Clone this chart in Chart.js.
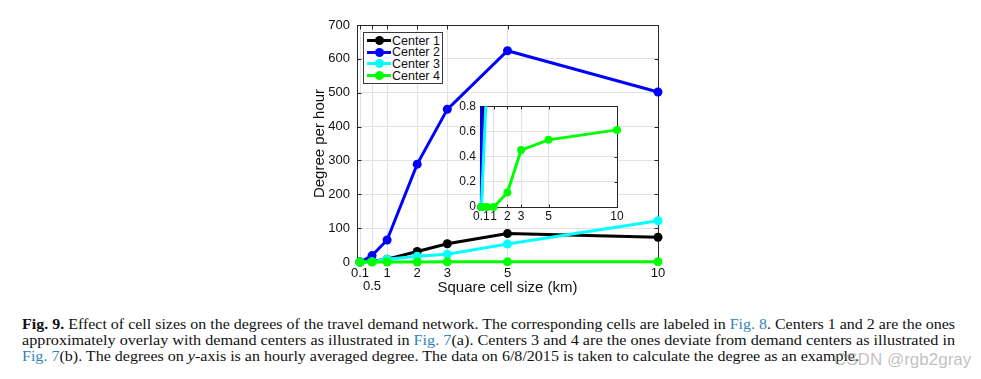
<!DOCTYPE html>
<html>
<head>
<meta charset="utf-8">
<script src="https://cdn.jsdelivr.net/npm/chart.js@4.4.1/dist/chart.umd.min.js"></script>
<style>
  html, body { margin: 0; padding: 0; background: #fff; }
  body { width: 981px; height: 379px; overflow: hidden; position: relative; font-family: "Liberation Sans", Arial, sans-serif; }
  #mainCanvas { position: absolute; left: 0; top: 0; }
  #insetCanvas { position: absolute; left: 440px; top: 95px; }
  #legend { position: absolute; left: 363px; top: 32px; width: 78px; height: 50px; border: 1px solid #3a3a3a; background: #fff; }
  .lrow { position: absolute; left: 0; height: 12px; width: 78px; }
  .lline { position: absolute; left: 3px; width: 24px; height: 3px; top: 4.5px; }
  .ldot { position: absolute; left: 10.5px; width: 9px; height: 9px; top: 1.5px; border-radius: 50%; }
  .ltext { position: absolute; left: 28px; top: -1px; font-size: 12.5px; line-height: 14px; color: #111; white-space: nowrap; }
  .cap { position: absolute; left: 22px; font-family: "Liberation Serif", "Times New Roman", serif; font-size: 14px; line-height: 16px; color: #111; white-space: nowrap; transform-origin: 0 0; }
  .cap a { color: #2f83c0; text-decoration: none; }
  #wm { position: absolute; left: 834px; top: 350px; font-family: "Liberation Sans", Arial, sans-serif; font-size: 17px; line-height: 20px; color: rgba(150,150,150,0.6); white-space: nowrap; }
</style>
</head>
<body>
<canvas id="mainCanvas" width="981" height="300"></canvas>
<canvas id="insetCanvas" width="190" height="130"></canvas>
<div id="legend"></div>

<div class="cap" id="cap1" data-target="933"><b>Fig. 9.</b> Effect of cell sizes on the degrees of the travel demand network. The corresponding cells are labeled in <a>Fig. 8</a>. Centers 1 and 2 are the ones</div>
<div class="cap" id="cap2" data-target="933">approximately overlay with demand centers as illustrated in <a>Fig. 7</a>(a). Centers 3 and 4 are the ones deviate from demand centers as illustrated in</div>
<div class="cap" id="cap3" data-target="837"><a>Fig. 7</a>(b). The degrees on <i>y</i>-axis is an hourly averaged degree. The data on 6/8/2015 is taken to calculate the degree as an example.</div>
<div id="wm">CSDN @rgb2gray</div>

<script>
// ---- data ----
const xValues = [0.1, 0.5, 1, 2, 3, 5, 10];
const center1 = [0, 2, 8, 31, 54, 84, 73];
const center2 = [0, 19, 65, 289, 451, 624, 502];
const center3 = [0, 1, 8, 17, 23, 53, 122];
const center4 = [0, 0, 0, 0.115, 0.452, 0.533, 0.612];
const seriesNames = ['Center 1', 'Center 2', 'Center 3', 'Center 4'];
const seriesColors = ['#000000', '#0000ff', '#00ffff', '#00ff00'];
const mainXTicks = [0.1, 0.5, 1, 2, 3, 5, 10];
const mainYTicks = [0, 100, 200, 300, 400, 500, 600, 700];
const insetXTicks = [0.1, 1, 2, 3, 5, 10];
const insetYTicks = [0, 0.2, 0.4, 0.6, 0.8];
const xTitle = 'Square cell size (km)';
const yTitle = 'Degree per hour';

const allSeries = [center1, center2, center3, center4];
const toXY = ys => xValues.map((x, i) => ({ x: x, y: ys[i] }));

function makeDatasets(radius, clip) {
  return allSeries.map((ys, i) => ({
    label: seriesNames[i],
    data: toXY(ys),
    borderColor: seriesColors[i],
    backgroundColor: seriesColors[i],
    pointBackgroundColor: seriesColors[i],
    pointBorderWidth: 0,
    pointRadius: radius,
    borderWidth: 3,
    tension: 0,
    order: allSeries.length - i,
    clip: clip
  }));
}

const boxPlugin = {
  id: 'box',
  beforeDraw(chart, args, opts) {
    if (!opts.fill) return;
    const { ctx, chartArea: a } = chart;
    ctx.save();
    ctx.fillStyle = '#ffffff';
    ctx.fillRect(a.left, a.top, a.right - a.left, a.bottom - a.top);
    ctx.restore();
  },
  beforeDatasetsDraw(chart, args, opts) {
    const { ctx, chartArea: a, scales } = chart;
    ctx.save();
    ctx.strokeStyle = opts.color || '#262626';
    ctx.lineWidth = 1;
    const l = Math.round(a.left) + 0.5, t = Math.round(a.top) + 0.5;
    const r = Math.round(a.right) + 0.5, b = Math.round(a.bottom) + 0.5;
    ctx.strokeRect(l, t, r - l, b - t);
    const L = opts.tick || 4;
    ctx.beginPath();
    scales.x.ticks.forEach(tk => {
      const px = Math.round(scales.x.getPixelForValue(tk.value)) + 0.5;
      ctx.moveTo(px, b); ctx.lineTo(px, b - L);
      ctx.moveTo(px, t); ctx.lineTo(px, t + L);
    });
    scales.y.ticks.forEach(tk => {
      const py = Math.round(scales.y.getPixelForValue(tk.value)) + 0.5;
      ctx.moveTo(l, py); ctx.lineTo(l + L, py);
      ctx.moveTo(r, py); ctx.lineTo(r - L, py);
    });
    ctx.stroke();
    ctx.restore();
  }
};

const tickColor = '#111111';
const gridColor = '#e2e2e2';

// ---- main chart ----
new Chart(document.getElementById('mainCanvas'), {
  type: 'line',
  data: { datasets: makeDatasets(4.5, false) },
  plugins: [boxPlugin],
  options: {
    responsive: false,
    animation: false,
    devicePixelRatio: 1,
    layout: { padding: { left: 0, top: 25, right: 323, bottom: 0 } },
    plugins: { legend: { display: false }, tooltip: { enabled: false }, box: { color: '#262626', tick: 4 } },
    scales: {
      x: {
        type: 'linear', min: 0, max: 10,
        afterBuildTicks: s => { s.ticks = mainXTicks.map(v => ({ value: v })); },
        afterFit: s => { s.height = 38; },
        grid: { color: gridColor, drawTicks: false },
        border: { display: false },
        ticks: {
          autoSkip: false, maxRotation: 0, padding: 5.5, color: tickColor,
          font: { family: '"Liberation Sans", Arial, sans-serif', size: 13, lineHeight: 0.95 },
          callback: v => (v === 0.5 ? ['', '0.5'] : String(v))
        },
        title: {
          display: true, text: xTitle, color: tickColor,
          font: { family: '"Liberation Sans", Arial, sans-serif', size: 15, lineHeight: 1.2 },
          padding: { top: 0, bottom: 3 }
        }
      },
      y: {
        type: 'linear', min: 0, max: 700,
        afterBuildTicks: s => { s.ticks = mainYTicks.map(v => ({ value: v })); },
        afterFit: s => { s.width = 357; },
        grid: { color: gridColor, drawTicks: false },
        border: { display: false },
        ticks: {
          autoSkip: false, padding: 7, color: tickColor,
          font: { family: '"Liberation Sans", Arial, sans-serif', size: 13 },
          callback: v => String(v)
        },
        title: {
          display: true, text: yTitle, color: tickColor,
          font: { family: '"Liberation Sans", Arial, sans-serif', size: 15, lineHeight: 1.2 },
          padding: { top: 311, bottom: 0 }
        }
      }
    }
  }
});

// ---- inset chart ----
new Chart(document.getElementById('insetCanvas'), {
  type: 'line',
  data: { datasets: makeDatasets(4, { left: 6, right: 6, top: 0, bottom: 6 }) },
  plugins: [boxPlugin],
  options: {
    responsive: false,
    animation: false,
    devicePixelRatio: 1,
    layout: { padding: { left: 0, top: 10, right: 13, bottom: 0 } },
    plugins: { legend: { display: false }, tooltip: { enabled: false }, box: { color: '#262626', tick: 3, fill: true } },
    scales: {
      x: {
        type: 'linear', min: 0, max: 10,
        afterBuildTicks: s => { s.ticks = insetXTicks.map(v => ({ value: v })); },
        afterFit: s => { s.height = 18; },
        grid: { color: gridColor, drawTicks: false },
        border: { display: false },
        ticks: {
          autoSkip: false, maxRotation: 0, padding: 2, color: tickColor,
          font: { family: '"Liberation Sans", Arial, sans-serif', size: 12 },
          callback: v => String(v)
        }
      },
      y: {
        type: 'linear', min: 0, max: 0.8,
        afterBuildTicks: s => { s.ticks = insetYTicks.map(v => ({ value: v })); },
        afterFit: s => { s.width = 40; },
        grid: { color: gridColor, drawTicks: false },
        border: { display: false },
        ticks: {
          autoSkip: false, padding: 4, color: tickColor,
          font: { family: '"Liberation Sans", Arial, sans-serif', size: 12 },
          callback: v => String(v)
        }
      }
    }
  }
});

// ---- legend ----
const legendEl = document.getElementById('legend');
const rowCenters = [7.5, 19.2, 30.9, 42.6];
seriesNames.forEach((name, i) => {
  const row = document.createElement('div');
  row.className = 'lrow';
  row.style.top = (rowCenters[i] - 6) + 'px';
  const line = document.createElement('div');
  line.className = 'lline'; line.style.background = seriesColors[i];
  const dot = document.createElement('div');
  dot.className = 'ldot'; dot.style.background = seriesColors[i];
  const txt = document.createElement('div');
  txt.className = 'ltext'; txt.textContent = name;
  row.appendChild(line); row.appendChild(dot); row.appendChild(txt);
  legendEl.appendChild(row);
});

// ---- caption fitting ----
const capTops = [317, 333, 349];
['cap1', 'cap2', 'cap3'].forEach((id, i) => {
  const el = document.getElementById(id);
  el.style.top = capTops[i] + 'px';
  const target = parseFloat(el.dataset.target);
  const w = el.getBoundingClientRect().width;
  el.style.transform = 'scaleX(' + (target / w) + ')';
});
</script>
</body>
</html>
